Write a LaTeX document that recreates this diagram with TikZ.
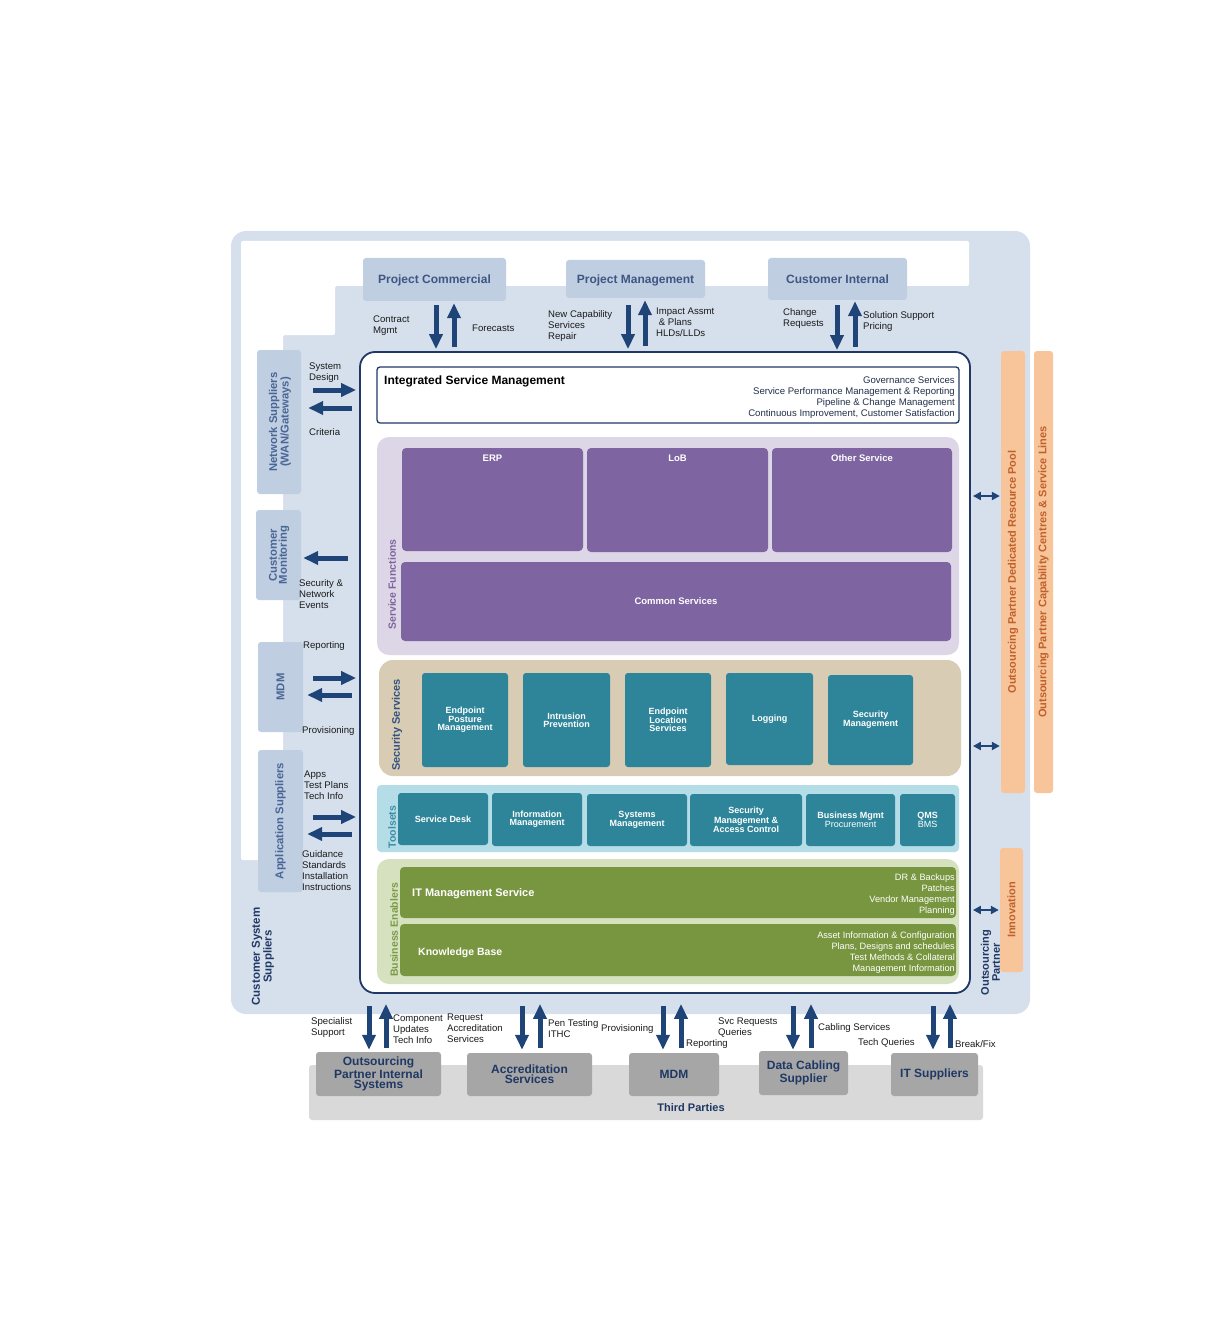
\documentclass[tikz,border=0pt]{standalone}
\usepackage{fontspec}
\setmainfont{Liberation Sans}
\usetikzlibrary{arrows.meta,calc}
\definecolor{bgblue}{HTML}{D6E0EC}
\definecolor{boxblue}{HTML}{BFCEE1}
\definecolor{boxtxt}{HTML}{3E5683}
\definecolor{navy}{HTML}{1F4478}
\definecolor{mainborder}{HTML}{1F3864}
\definecolor{ismtxt}{HTML}{22304A}
\definecolor{purplight}{HTML}{DDD6E6}
\definecolor{purp}{HTML}{7E64A0}
\definecolor{beige}{HTML}{D8CCB4}
\definecolor{teal}{HTML}{2E8599}
\definecolor{toolbg}{HTML}{B4DDE8}
\definecolor{greenl}{HTML}{D6E1C0}
\definecolor{green}{HTML}{78953F}
\definecolor{orange}{HTML}{F8C59B}
\definecolor{orangetxt}{HTML}{C0602A}
\definecolor{greyl}{HTML}{D9D9D9}
\definecolor{greybox}{HTML}{A6A6A6}
\definecolor{greytxt}{HTML}{1F3864}
\definecolor{sidetxt}{HTML}{4A6696}
\definecolor{sectxt}{HTML}{34527F}
\definecolor{tooltxt}{HTML}{3E8DA5}
\definecolor{greentxt}{HTML}{7A9A45}
\definecolor{lbltxt}{HTML}{1A1A1A}
\begin{document}
\begin{tikzpicture}[x=1pt,y=-1pt,
  lbl/.style={font=\fontsize{9.6}{11}\selectfont, align=left, anchor=west, inner sep=0pt, text=lbltxt, yshift=-1.5pt},
  topbox/.style={fill=boxblue, rounded corners=3pt, text=boxtxt, font=\bfseries\fontsize{12}{14}\selectfont, inner sep=0pt, text depth=0pt},
  sidebox/.style={fill=boxblue, rounded corners=3pt, inner sep=0pt},
  sidelbl/.style={rotate=90, text=sidetxt, font=\bfseries\fontsize{11.3}{10}\selectfont, align=center, inner sep=0pt},
  panel/.style={rounded corners=12pt, inner sep=0pt},
  panellbl/.style={rotate=90, font=\bfseries\fontsize{10.5}{12}\selectfont, inner sep=0pt},
  purpbox/.style={fill=purp, rounded corners=4pt, inner sep=0pt, text=white, font=\bfseries\fontsize{9.5}{11}\selectfont},
  tealbox/.style={fill=teal, rounded corners=3pt, inner sep=0pt, text=white, align=center, font=\bfseries\fontsize{9}{8}\selectfont},
  greenbox/.style={fill=green, rounded corners=4pt, inner sep=0pt},
  orangebox/.style={fill=orange, rounded corners=3pt, inner sep=0pt},
  orangelbl/.style={rotate=90, text=orangetxt, font=\bfseries\fontsize{11}{12}\selectfont, inner sep=0pt},
  greybox/.style={fill=greybox, rounded corners=3pt, inner sep=0pt, text=greytxt, align=center, font=\bfseries\fontsize{12}{10}\selectfont},
  fat/.style={draw=navy, line width=5pt, -{Triangle[length=15pt,width=13pt]}},
  dbl/.style={draw=navy, line width=2pt, {Triangle[length=8pt,width=8pt]}-{Triangle[length=8pt,width=8pt]}}
]
\useasboundingbox (0,0) rectangle (1224,1329);

% outer panel and white cut-out
\node[fill=bgblue, rounded corners=15pt, minimum width=799pt, minimum height=783pt, inner sep=0pt] (outer) at (630.5,622.5) {};
\fill[white, rounded corners=2pt] (241,241) -- (969,241) -- (969,286) -- (335,286) -- (335,335) -- (283,335) -- (283,860) -- (241,860) -- cycle;

% top boxes
\node[topbox, minimum width=143pt, minimum height=43pt] (pc) at (434.5,279.5) {Project Commercial};
\node[topbox, minimum width=139pt, minimum height=38pt] (pm) at (635.5,279) {Project Management};
\node[topbox, minimum width=139pt, minimum height=42pt] (ci) at (837.5,279) {Customer Internal};

% main box
\node[draw=mainborder, line width=1.8pt, fill=white, rounded corners=15pt, minimum width=610pt, minimum height=641pt, inner sep=0pt] (main) at (665,672.5) {};

% ISM
\node[draw=mainborder, line width=1.3pt, rounded corners=3pt, minimum width=582pt, minimum height=56pt, inner sep=0pt] (ism) at (668,395) {};
\node[anchor=west, inner sep=0pt, text=black, font=\bfseries\fontsize{12}{14}\selectfont] (ismt) at (384,381) {Integrated Service Management};
\node[anchor=east, inner sep=0pt, align=right, text=ismtxt, font=\fontsize{9.6}{11}\selectfont] (ismr) at (955,397.5) {Governance Services\\Service Performance Management \& Reporting\\Pipeline \& Change Management\\Continuous Improvement, Customer Satisfaction};

% Service functions
\node[panel, fill=purplight, minimum width=582pt, minimum height=218pt] (sf) at (668,546) {};
\node[panellbl, text=purp] (sfl) at (392,584.5) {Service Functions};
\node[purpbox, minimum width=181pt, minimum height=103pt, label={[anchor=north, inner sep=0pt, yshift=-6.5pt, text=white, font=\bfseries\fontsize{9.5}{11}\selectfont]north:ERP}] (erp) at (492.5,499.5) {};
\node[purpbox, minimum width=181pt, minimum height=104pt, label={[anchor=north, inner sep=0pt, yshift=-6.5pt, text=white, font=\bfseries\fontsize{9.5}{11}\selectfont]north:LoB}] (lob) at (677.5,500) {};
\node[purpbox, minimum width=180pt, minimum height=104pt, label={[anchor=north, inner sep=0pt, yshift=-6.5pt, text=white, font=\bfseries\fontsize{9.5}{11}\selectfont]north:Other Service}] (oth) at (862,500) {};
\node[purpbox, minimum width=550pt, minimum height=79pt] (com) at (676,601.5) {Common Services};

% Security services
\node[panel, fill=beige, rounded corners=14pt, minimum width=582pt, minimum height=116pt] (ss) at (670,718) {};
\node[panellbl, text=sectxt, font=\bfseries\fontsize{11}{12}\selectfont] (ssl) at (397,725) {Security Services};
\node[tealbox, minimum width=86pt, minimum height=94pt] (epm) at (465,720) {Endpoint\\Posture\\Management};
\node[tealbox, minimum width=87pt, minimum height=94pt] (ip) at (566.5,720) {Intrusion\\Prevention};
\node[tealbox, minimum width=86pt, minimum height=94pt] (els) at (668,720) {Endpoint\\Location\\Services};
\node[tealbox, minimum width=87pt, minimum height=92pt] (log) at (769.5,719) {Logging};
\node[tealbox, minimum width=85pt, minimum height=90pt] (secm) at (870.5,720) {Security\\Management};

% Toolsets
\node[panel, fill=toolbg, rounded corners=4pt, minimum width=582pt, minimum height=67pt] (ts) at (668,818.5) {};
\node[panellbl, text=tooltxt] (tsl) at (392,827) {Toolsets};
\node[tealbox, minimum width=90pt, minimum height=52pt] (sd) at (443,819) {Service Desk};
\node[tealbox, minimum width=90pt, minimum height=53pt] (im) at (537,819.5) {Information\\Management};
\node[tealbox, minimum width=100pt, minimum height=52pt] (sm) at (637,820) {Systems\\Management};
\node[tealbox, minimum width=112pt, minimum height=52pt] (smac) at (746,820) {Security\\Management \&\\Access Control};
\node[tealbox, minimum width=89pt, minimum height=52pt] (bm) at (850.5,820) {Business Mgmt\\\mdseries Procurement};
\node[tealbox, minimum width=55pt, minimum height=52pt] (qms) at (927.5,820) {QMS\\\mdseries BMS};

% Business enablers
\node[panel, fill=greenl, minimum width=582pt, minimum height=125pt] (be) at (668,921.5) {};
\node[panellbl, text=greentxt] (bel) at (394,930) {Business Enablers};
\node[greenbox, minimum width=556pt, minimum height=51pt] (itms) at (678,892.5) {};
\node[anchor=west, inner sep=0pt, text=white, font=\bfseries\fontsize{11}{13}\selectfont] (itmst) at (412,894) {IT Management Service};
\node[anchor=east, inner sep=0pt, align=right, text=white, font=\fontsize{9.2}{11}\selectfont] (itmsr) at (955,894.5) {DR \& Backups\\Patches\\Vendor Management\\Planning};
\node[greenbox, minimum width=556pt, minimum height=52pt] (kb) at (678,950) {};
\node[anchor=west, inner sep=0pt, text=white, font=\bfseries\fontsize{10.5}{13}\selectfont] (kbt) at (418,953) {Knowledge Base};
\node[anchor=east, inner sep=0pt, align=right, text=white, font=\fontsize{9.2}{11}\selectfont] (kbr) at (955,952.5) {Asset Information \& Configuration\\Plans, Designs and schedules\\Test Methods \& Collateral\\Management Information};

% right side
\node[orangebox, minimum width=24pt, minimum height=442pt] (pool) at (1013,572) {};
\node[orangelbl] (poolt) at (1013,572) {Outsourcing Partner Dedicated Resource Pool};
\node[orangebox, minimum width=19pt, minimum height=442pt] (cap) at (1043.5,572) {};
\node[orangelbl] (capt) at (1043.5,572) {Outsourcing Partner Capability Centres \& Service Lines};
\node[orangebox, minimum width=23pt, minimum height=124pt] (inn) at (1011.5,910) {};
\node[orangelbl] (innt) at (1011.5,910) {Innovation};
\node[rotate=90, inner sep=0pt, align=center, text=mainborder, font=\bfseries\fontsize{11}{9}\selectfont] (opl) at (990.5,962.5) {Outsourcing\\Partner};

% left side boxes
\node[sidebox, minimum width=44pt, minimum height=144pt] (ns) at (279,422) {};
\node[sidelbl] (nst) at (280,422) {Network Suppliers\\(WAN/Gateways)};
\node[sidebox, minimum width=45pt, minimum height=90pt] (cm) at (278.5,555) {};
\node[sidelbl] (cmt) at (279,555) {Customer\\Monitoring};
\node[sidebox, minimum width=45pt, minimum height=90pt] (mdm) at (280.5,687) {};
\node[sidelbl] (mdmt) at (280.5,687) {MDM};
\node[sidebox, minimum width=45pt, minimum height=142pt] (as) at (280.5,821) {};
\node[sidelbl] (ast) at (280.5,821) {Application Suppliers};
\node[rotate=90, inner sep=0pt, align=center, text=mainborder, font=\bfseries\fontsize{11.5}{10}\selectfont] (css) at (263,956.5) {Customer System\\Suppliers};

% third parties
\node[fill=greyl, rounded corners=3pt, minimum width=674pt, minimum height=55pt, inner sep=0pt] (tp) at (646,1092.5) {};
\node[inner sep=0pt, text=greytxt, font=\bfseries\fontsize{11}{13}\selectfont] (tpt) at (691,1108) {Third Parties};
\node[greybox, minimum width=125pt, minimum height=44pt] (opis) at (378.5,1074) {Outsourcing\\Partner Internal\\Systems};
\node[greybox, minimum width=125pt, minimum height=43pt] (acc) at (529.5,1074.5) {Accreditation\\Services};
\node[greybox, minimum width=90pt, minimum height=43pt] (mdm2) at (674,1074.5) {MDM};
\node[greybox, minimum width=89pt, minimum height=44pt] (dcs) at (803.5,1073) {Data Cabling\\Supplier};
\node[greybox, minimum width=87pt, minimum height=43pt] (its) at (934.5,1074.5) {IT Suppliers};

% helper coordinates
\foreach \n/\v in {a436/436,a454/454,a628/628,a645/645,a837/837,a855/855,
                   b369/369,b386/386,b522/522,b540/540,b663/663,b681/681,b793/793,b811/811,b933/933,b950/950}
  \coordinate (\n) at (\v,0);
\foreach \n/\v in {y390/390,y408/408,y558/558,y678/678,y695/695,y817/817,y834/834,y496/496,y746/746,y910/910}
  \coordinate (\n) at (0,\v);

% top arrows
\draw[fat, shorten <=4pt, shorten >=2pt] (pc.south -| a436) -- (main.north -| a436);
\draw[fat, shorten <=4pt, shorten >=2pt] (main.north -| a454) -- (pc.south -| a454);
\draw[fat, shorten <=7pt, shorten >=2pt] (pm.south -| a628) -- (main.north -| a628);
\draw[fat, shorten <=5pt, shorten >=2pt] (main.north -| a645) -- (pm.south -| a645);
\draw[fat, shorten <=5pt, shorten >=1pt] (ci.south -| a837) -- (main.north -| a837);
\draw[fat, shorten <=4pt, shorten >=1pt] (main.north -| a855) -- (ci.south -| a855);

% left arrows
\draw[fat, shorten <=12pt, shorten >=3pt] (ns.east |- y390) -- (main.west |- y390);
\draw[fat, shorten <=7pt, shorten >=7pt] (main.west |- y408) -- (ns.east |- y408);
\draw[fat, shorten <=11pt, shorten >=2pt] (main.west |- y558) -- (cm.east |- y558);
\draw[fat, shorten <=10pt, shorten >=3pt] (mdm.east |- y678) -- (main.west |- y678);
\draw[fat, shorten <=7pt, shorten >=4pt] (main.west |- y695) -- (mdm.east |- y695);
\draw[fat, shorten <=10pt, shorten >=3pt] (as.east |- y817) -- (main.west |- y817);
\draw[fat, shorten <=7pt, shorten >=4pt] (main.west |- y834) -- (as.east |- y834);

% right double arrows
\draw[dbl, shorten <=2pt, shorten >=1pt] (main.east |- y496) -- (pool.west |- y496);
\draw[dbl, shorten <=2pt, shorten >=1pt] (main.east |- y746) -- (pool.west |- y746);
\draw[dbl, shorten <=2pt, shorten >=1pt] (main.east |- y910) -- (inn.west |- y910);

% bottom arrows
\draw[fat, shorten <=12pt, shorten >=2pt] (main.south -| b369) -- (opis.north -| b369);
\draw[fat, shorten <=4pt, shorten >=10pt] (opis.north -| b386) -- (main.south -| b386);
\draw[fat, shorten <=12pt, shorten >=3pt] (main.south -| b522) -- (acc.north -| b522);
\draw[fat, shorten <=5pt, shorten >=10pt] (acc.north -| b540) -- (main.south -| b540);
\draw[fat, shorten <=12pt, shorten >=3pt] (main.south -| b663) -- (mdm2.north -| b663);
\draw[fat, shorten <=5pt, shorten >=10pt] (mdm2.north -| b681) -- (main.south -| b681);
\draw[fat, shorten <=12pt, shorten >=1pt] (main.south -| b793) -- (dcs.north -| b793);
\draw[fat, shorten <=3pt, shorten >=10pt] (dcs.north -| b811) -- (main.south -| b811);
\draw[fat, shorten <=12pt, shorten >=3pt] (main.south -| b933) -- (its.north -| b933);
\draw[fat, shorten <=5pt, shorten >=10pt] (its.north -| b950) -- (main.south -| b950);

% labels top
\node[lbl] (l1) at (373,324.5) {Contract\\Mgmt};
\node[lbl] (l2) at (472,327) {Forecasts};
\node[lbl] (l3) at (548,324.5) {New Capability\\Services\\Repair};
\node[lbl] (l4) at (656,321) {Impact Assmt\\\ \& Plans\\HLDs/LLDs};
\node[lbl] (l5) at (783,317) {Change\\Requests};
\node[lbl] (l6) at (863,320.5) {Solution Support\\Pricing};
% labels left
\node[lbl] (l7) at (309,371.5) {System\\Design};
\node[lbl] (l8) at (309,431) {Criteria};
\node[lbl] (l9) at (299,592.5) {Security \&\\Network\\Events};
\node[lbl] (l10) at (303,645) {Reporting};
\node[lbl] (l11) at (302,730) {Provisioning};
\node[lbl] (l12) at (304,784) {Apps\\Test Plans\\Tech Info};
\node[lbl] (l13) at (302,869.5) {Guidance\\Standards\\Installation\\Instructions};
% labels bottom
\node[lbl] (l14) at (311,1026.5) {Specialist\\Support};
\node[lbl] (l15) at (393,1028) {Component\\Updates\\Tech Info};
\node[lbl] (l16) at (447,1027) {Request\\Accreditation\\Services};
\node[lbl] (l17) at (548,1027.5) {Pen Testing\\ITHC};
\node[lbl] (l18) at (601,1028) {Provisioning};
\node[lbl] (l19) at (686,1043) {Reporting};
\node[lbl] (l20) at (718,1026.5) {Svc Requests\\Queries};
\node[lbl] (l21) at (818,1027) {Cabling Services};
\node[lbl] (l22) at (858,1041) {Tech Queries};
\node[lbl] (l23) at (955,1043) {Break/Fix};
\end{tikzpicture}
\end{document}
